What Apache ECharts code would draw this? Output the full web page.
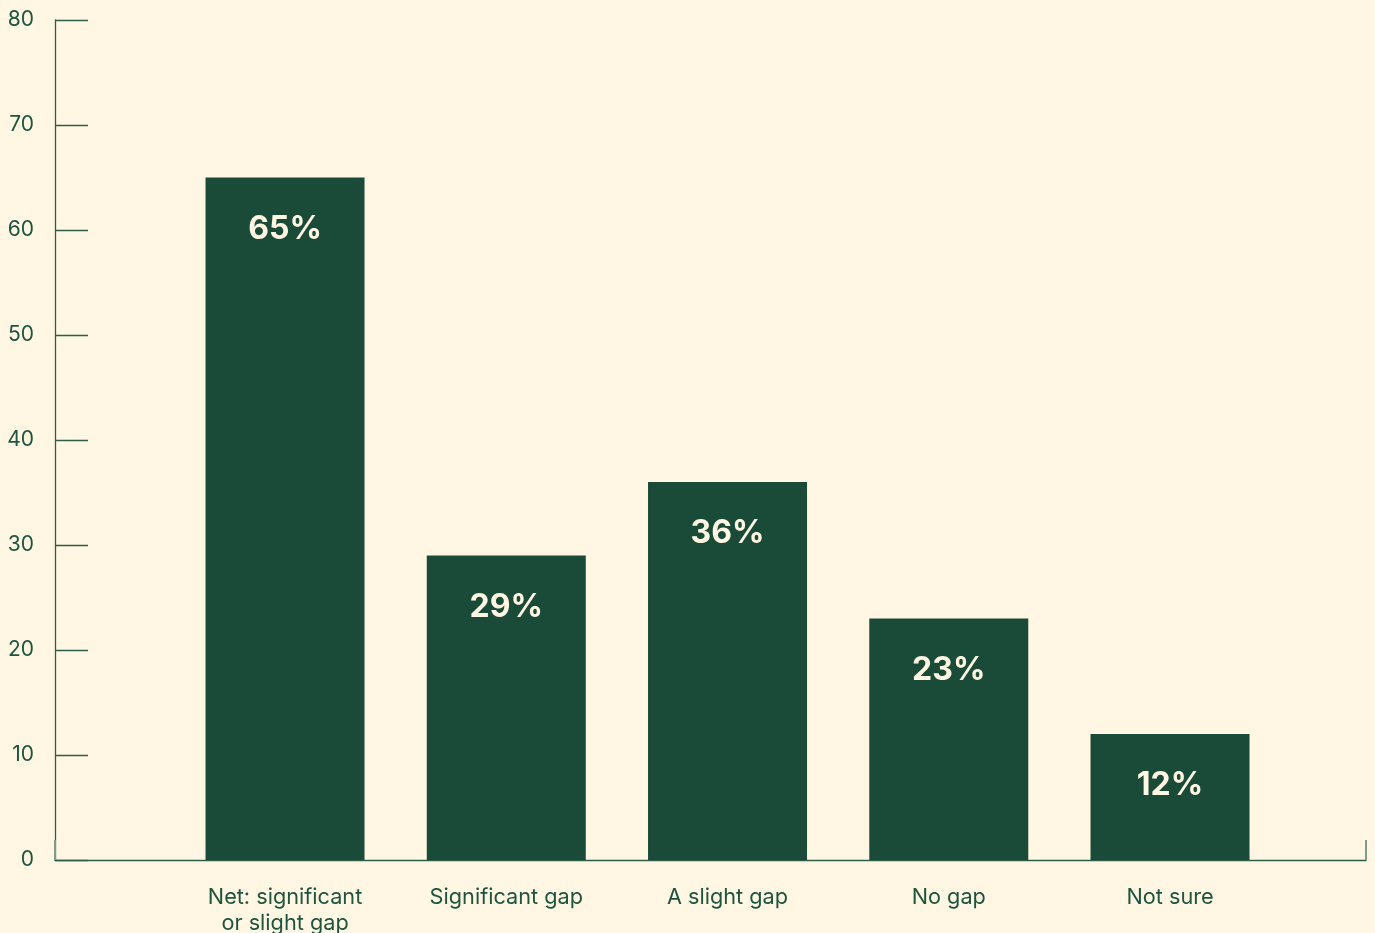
<!DOCTYPE html>
<html>
<head>
<meta charset="utf-8">
<script src="https://cdn.jsdelivr.net/npm/echarts@6/dist/echarts.min.js"></script>
<style>
html,body{margin:0;padding:0;background:#FFF7E3;}
#c{width:1375px;height:933px;}
</style>
</head>
<body>
<div id="c"></div>
<script>
const categories = ['Net: significant\nor slight gap', 'Significant gap', 'A slight gap', 'No gap', 'Not sure'];
const values = [65, 29, 36, 23, 12];
const yTicks = [0, 10, 20, 30, 40, 50, 60, 70, 80];

const green = '#1A4A38';
const cream = '#FFF7E3';
const textGreen = '#1F5440';
const font = 'Inter, "Noto Sans", sans-serif';

const chart = echarts.init(document.getElementById('c'), null, {renderer: 'canvas'});
chart.setOption({
  backgroundColor: cream,
  animation: false,
  grid: [
    {left: 55, right: 9, top: 20, bottom: 73, containLabel: false, outerBoundsMode: 'none'},
    {left: 174.4, width: 1106.25, top: 20, bottom: 73, containLabel: false, outerBoundsMode: 'none'}
  ],
  xAxis: [
    {
      gridIndex: 0, type: 'value', min: 0, max: 1, interval: 1,
      axisLine: {show: true, lineStyle: {color: '#2E5E4A', width: 1.3}},
      axisTick: {show: true, inside: true, length: 20, lineStyle: {color: '#7E9A88', width: 2}},
      axisLabel: {show: false}, splitLine: {show: false}
    },
    {
      gridIndex: 1, type: 'category', data: categories,
      axisLine: {show: false}, axisTick: {show: false},
      axisLabel: {color: textGreen, fontFamily: font, fontSize: 21.7, margin: 24, lineHeight: 26}
    }
  ],
  yAxis: [
    {
      gridIndex: 0, type: 'value', min: yTicks[0], max: yTicks[yTicks.length - 1], interval: 10,
      axisLine: {show: true, lineStyle: {color: '#2E5E4A', width: 1.3}},
      axisTick: {show: true, inside: true, length: 33, lineStyle: {color: '#2E5E4A', width: 1.3}},
      axisLabel: {color: textGreen, fontFamily: font, fontSize: 21, margin: 21},
      splitLine: {show: false}
    },
    {
      gridIndex: 1, type: 'value', min: yTicks[0], max: yTicks[yTicks.length - 1], interval: 10,
      show: false
    }
  ],
  series: [{
    type: 'bar',
    xAxisIndex: 1, yAxisIndex: 1,
    data: values,
    barWidth: 159,
    itemStyle: {color: green},
    label: {
      show: true, position: 'insideTop', distance: 35.5,
      formatter: p => p.value + '%',
      color: cream, fontFamily: font, fontWeight: 'bold', fontSize: 32
    }
  }]
});
</script>
</body>
</html>
